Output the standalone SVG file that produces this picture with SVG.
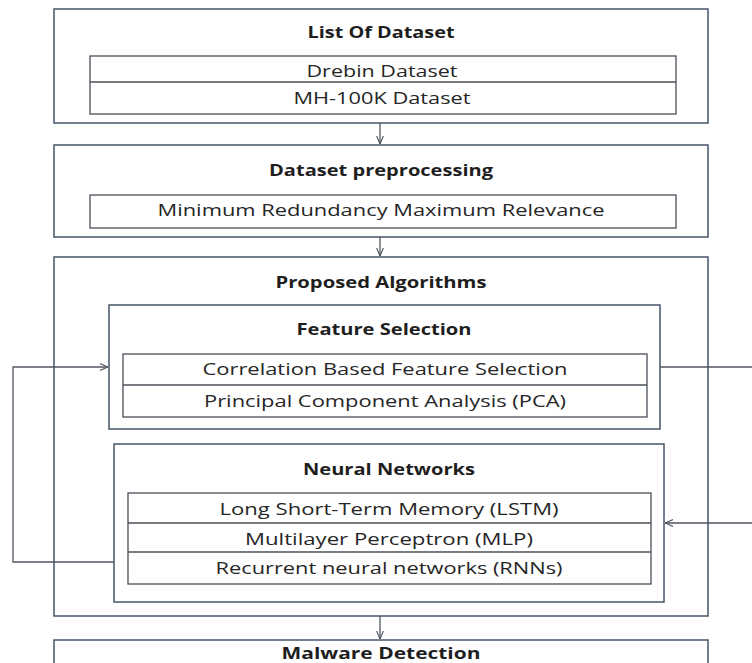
<svg xmlns="http://www.w3.org/2000/svg" width="752" height="663" viewBox="0 0 752 663">
  <style>
    .box { fill: #ffffff; stroke: #46546a; stroke-width: 1.5; }
    .cell { fill: #ffffff; stroke: #4a4f58; stroke-width: 1.3; }
    .div { stroke: #4a4f58; stroke-width: 1.3; }
    .wire { fill: none; stroke: #505560; stroke-width: 1.3; }
    .title { font-family: "Open Sans", "Liberation Sans", sans-serif; font-size: 15.5px; font-weight: bold; fill: #1e1e1e; text-anchor: middle; }
    .item { font-family: "Open Sans", "Liberation Sans", sans-serif; font-size: 15.5px; fill: #262626; text-anchor: middle; }
  </style>
  <defs>
    <marker id="vee" viewBox="0 0 10 10" refX="10" refY="5" markerWidth="8" markerHeight="8" markerUnits="userSpaceOnUse" orient="auto">
      <path d="M0,0.8 L10,5 L0,9.2" fill="none" stroke="#505560" stroke-width="1.4"/>
    </marker>
  </defs>
  <rect width="752" height="663" fill="#ffffff"/>

  <!-- dataset sources -->
  <g id="datasets">
    <rect class="box" x="54" y="9" width="654" height="114"/>
    <text class="title" x="381" y="38" textLength="147" lengthAdjust="spacingAndGlyphs">List Of Dataset</text>
    <rect class="cell" x="90" y="56" width="586" height="58"/>
    <line class="div" x1="90" y1="82" x2="676" y2="82"/>
    <text class="item" x="382" y="77" textLength="151" lengthAdjust="spacingAndGlyphs">Drebin Dataset</text>
    <text class="item" x="382" y="104" textLength="177" lengthAdjust="spacingAndGlyphs">MH-100K Dataset</text>
  </g>

  <!-- preprocessing -->
  <g id="preprocessing">
    <rect class="box" x="54" y="145" width="654" height="92"/>
    <text class="title" x="381" y="176" textLength="224" lengthAdjust="spacingAndGlyphs">Dataset preprocessing</text>
    <rect class="cell" x="90" y="195" width="586" height="33"/>
    <text class="item" x="381" y="216" textLength="447" lengthAdjust="spacingAndGlyphs">Minimum Redundancy Maximum Relevance</text>
  </g>

  <!-- proposed algorithms -->
  <g id="algorithms">
    <rect class="box" x="54" y="257" width="654" height="359"/>
    <text class="title" x="381" y="288" textLength="211" lengthAdjust="spacingAndGlyphs">Proposed Algorithms</text>
  </g>

  <g id="feature-selection">
    <rect class="box" x="109" y="305" width="551" height="124"/>
    <text class="title" x="384" y="335" textLength="175" lengthAdjust="spacingAndGlyphs">Feature Selection</text>
    <rect class="cell" x="123" y="354" width="524" height="63"/>
    <line class="div" x1="123" y1="385" x2="647" y2="385"/>
    <text class="item" x="385" y="375" textLength="365" lengthAdjust="spacingAndGlyphs">Correlation Based Feature Selection</text>
    <text class="item" x="385" y="407" textLength="362" lengthAdjust="spacingAndGlyphs">Principal Component Analysis (PCA)</text>
  </g>

  <g id="neural-networks">
    <rect class="box" x="114" y="444" width="550" height="158"/>
    <text class="title" x="389" y="475" textLength="172" lengthAdjust="spacingAndGlyphs">Neural Networks</text>
    <rect class="cell" x="128" y="493" width="523" height="91"/>
    <line class="div" x1="128" y1="523" x2="651" y2="523"/>
    <line class="div" x1="128" y1="552" x2="651" y2="552"/>
    <text class="item" x="389" y="515" textLength="339" lengthAdjust="spacingAndGlyphs">Long Short-Term Memory (LSTM)</text>
    <text class="item" x="389" y="545" textLength="288" lengthAdjust="spacingAndGlyphs">Multilayer Perceptron (MLP)</text>
    <text class="item" x="389" y="574" textLength="347" lengthAdjust="spacingAndGlyphs">Recurrent neural networks (RNNs)</text>
  </g>

  <!-- detection stage -->
  <g id="detection">
    <rect class="box" x="54" y="640" width="654" height="40"/>
    <text class="title" x="381" y="659" textLength="199" lengthAdjust="spacingAndGlyphs">Malware Detection</text>
  </g>

  <!-- flow between stages -->
  <g id="connectors">
    <line class="wire" x1="380" y1="123" x2="380" y2="144" marker-end="url(#vee)"/>
    <line class="wire" x1="380" y1="237" x2="380" y2="256" marker-end="url(#vee)"/>
    <line class="wire" x1="380" y1="616" x2="380" y2="639" marker-end="url(#vee)"/>
    <!-- feedback from neural networks back to feature selection -->
    <polyline class="wire" points="114,562 13,562 13,367 108,367" marker-end="url(#vee)"/>
    <!-- loop on the right side -->
    <line class="wire" x1="660" y1="367" x2="752" y2="367"/>
    <line class="wire" x1="752" y1="523" x2="665" y2="523" marker-end="url(#vee)"/>
  </g>
</svg>
